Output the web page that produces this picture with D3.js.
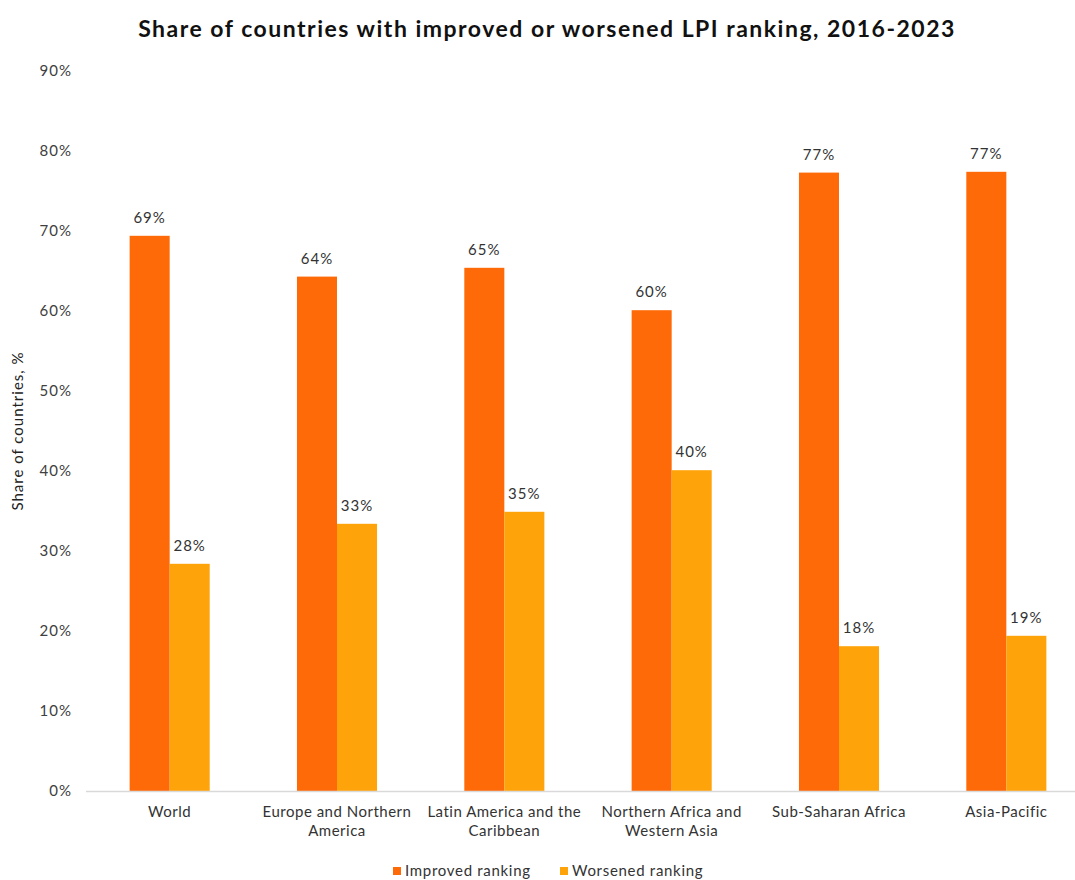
<!DOCTYPE html>
<html>
<head>
<meta charset="utf-8">
<script src="https://cdn.jsdelivr.net/npm/d3@7"></script>
<style>
  html, body { margin: 0; padding: 0; background: #fff; }
  svg { display: block; }
  text { font-family: Lato, "Open Sans", sans-serif; }
</style>
</head>
<body>
<svg id="chart" width="1075" height="880"></svg>
<script>
// Regions and the share of countries whose LPI ranking moved, 2016 → 2023
const regions = [
  "World",
  "Europe and Northern America",
  "Latin America and the Caribbean",
  "Northern Africa and Western Asia",
  "Sub-Saharan Africa",
  "Asia-Pacific"
];
const improved = [0.694, 0.643, 0.654, 0.601, 0.773, 0.774];
const worsened = [0.284, 0.334, 0.349, 0.401, 0.181, 0.194];
const seriesNames = ["Improved ranking", "Worsened ranking"];
const seriesColors = ["#FF6A08", "#FFA30A"];
const yTicks = [0, 0.1, 0.2, 0.3, 0.4, 0.5, 0.6, 0.7, 0.8, 0.9];

const svg = d3.select("#chart");
const H = 880;
const margin = { top: 71, bottom: 89, left: 86 };
const plotRight = 1090;

const x = d3.scaleBand()
  .domain(regions)
  .range([margin.left, plotRight])
  .paddingInner(0)
  .paddingOuter(0);

const x1 = d3.scaleBand()
  .domain(seriesNames)
  .range([0, x.bandwidth()])
  .paddingInner(0)
  .paddingOuter(1.09);

const y = d3.scaleLinear()
  .domain([0, 0.9])
  .range([H - margin.bottom, margin.top]);

// Title
svg.append("text")
  .attr("x", 547)
  .attr("y", 37)
  .attr("text-anchor", "middle")
  .attr("font-size", 23)
  .attr("font-weight", 700)
  .attr("letter-spacing", 1.5)
  .attr("fill", "#111")
  .text("Share of countries with improved or worsened LPI ranking, 2016-2023");

// Y axis (labels only)
const yAxis = d3.axisLeft(y)
  .tickValues(yTicks)
  .tickFormat(d3.format(".0%"))
  .tickSize(0)
  .tickPadding(0);

const yG = svg.append("g")
  .attr("transform", `translate(72,0)`)
  .call(yAxis);
yG.select(".domain").remove();
yG.selectAll("text")
  .attr("font-size", 15)
  .attr("letter-spacing", 1)
  .attr("fill", "#404040")
  .style("font-family", "Lato, sans-serif");

// Y axis title
svg.append("text")
  .attr("transform", `translate(23,${(y(0) + y(0.9)) / 2}) rotate(-90)`)
  .attr("text-anchor", "middle")
  .attr("font-size", 15)
  .attr("letter-spacing", 1)
  .attr("fill", "#222")
  .text("Share of countries, %");

// Bars
const rows = regions.map((r, i) => ({ region: r, values: [improved[i], worsened[i]] }));
const groups = svg.append("g").selectAll("g")
  .data(rows)
  .join("g")
  .attr("transform", d => `translate(${x(d.region)},0)`);

groups.selectAll("rect")
  .data(d => d.values.map((v, j) => ({ key: seriesNames[j], value: v, color: seriesColors[j] })))
  .join("rect")
  .attr("x", d => x1(d.key))
  .attr("y", d => y(d.value))
  .attr("width", x1.bandwidth())
  .attr("height", d => y(0) - y(d.value))
  .attr("fill", d => d.color);

groups.selectAll("text.val")
  .data(d => d.values.map((v, j) => ({ key: seriesNames[j], value: v })))
  .join("text")
  .attr("class", "val")
  .attr("x", d => x1(d.key) + x1.bandwidth() / 2)
  .attr("y", d => y(d.value) - 13)
  .attr("text-anchor", "middle")
  .attr("font-size", 15)
  .attr("letter-spacing", 1)
  .attr("fill", "#333")
  .text(d => d3.format(".0%")(d.value));

// Baseline
svg.append("line")
  .attr("x1", margin.left)
  .attr("x2", plotRight)
  .attr("y1", y(0) + 0.5)
  .attr("y2", y(0) + 0.5)
  .attr("stroke", "#d9d9d9")
  .attr("stroke-width", 1.5);

// Category labels, wrapped to the band width
const xAxis = d3.axisBottom(x).tickSize(0).tickPadding(0);
const xG = svg.append("g")
  .attr("transform", `translate(0,${y(0) + 26})`)
  .call(xAxis);
xG.select(".domain").remove();
xG.selectAll("text")
  .attr("font-size", 15)
  .attr("letter-spacing", 0.5)
  .attr("fill", "#333")
  .attr("dy", 0)
  .style("font-family", "Lato, sans-serif")
  .each(function (d) {
    const t = d3.select(this);
    const words = d.split(" ");
    t.text(null);
    let line = [];
    let tspan = t.append("tspan").attr("x", 0).attr("dy", 0);
    for (const w of words) {
      line.push(w);
      tspan.text(line.join(" "));
      if (tspan.node().getComputedTextLength() > 162 && line.length > 1) {
        line.pop();
        tspan.text(line.join(" "));
        line = [w];
        tspan = t.append("tspan").attr("x", 0).attr("dy", 19).text(w);
      }
    }
  });

// Legend
const legend = svg.append("g").attr("transform", "translate(393,871)");
const legendX = [0, 167];
seriesNames.forEach((name, i) => {
  const g = legend.append("g").attr("transform", `translate(${legendX[i]},0)`);
  g.append("rect")
    .attr("x", 0).attr("y", -4)
    .attr("width", 8).attr("height", 8)
    .attr("fill", seriesColors[i]);
  g.append("text")
    .attr("x", 12)
    .attr("y", 5)
    .attr("font-size", 15)
    .attr("letter-spacing", 0.7)
    .attr("fill", "#333")
    .text(name);
});
</script>
</body>
</html>
